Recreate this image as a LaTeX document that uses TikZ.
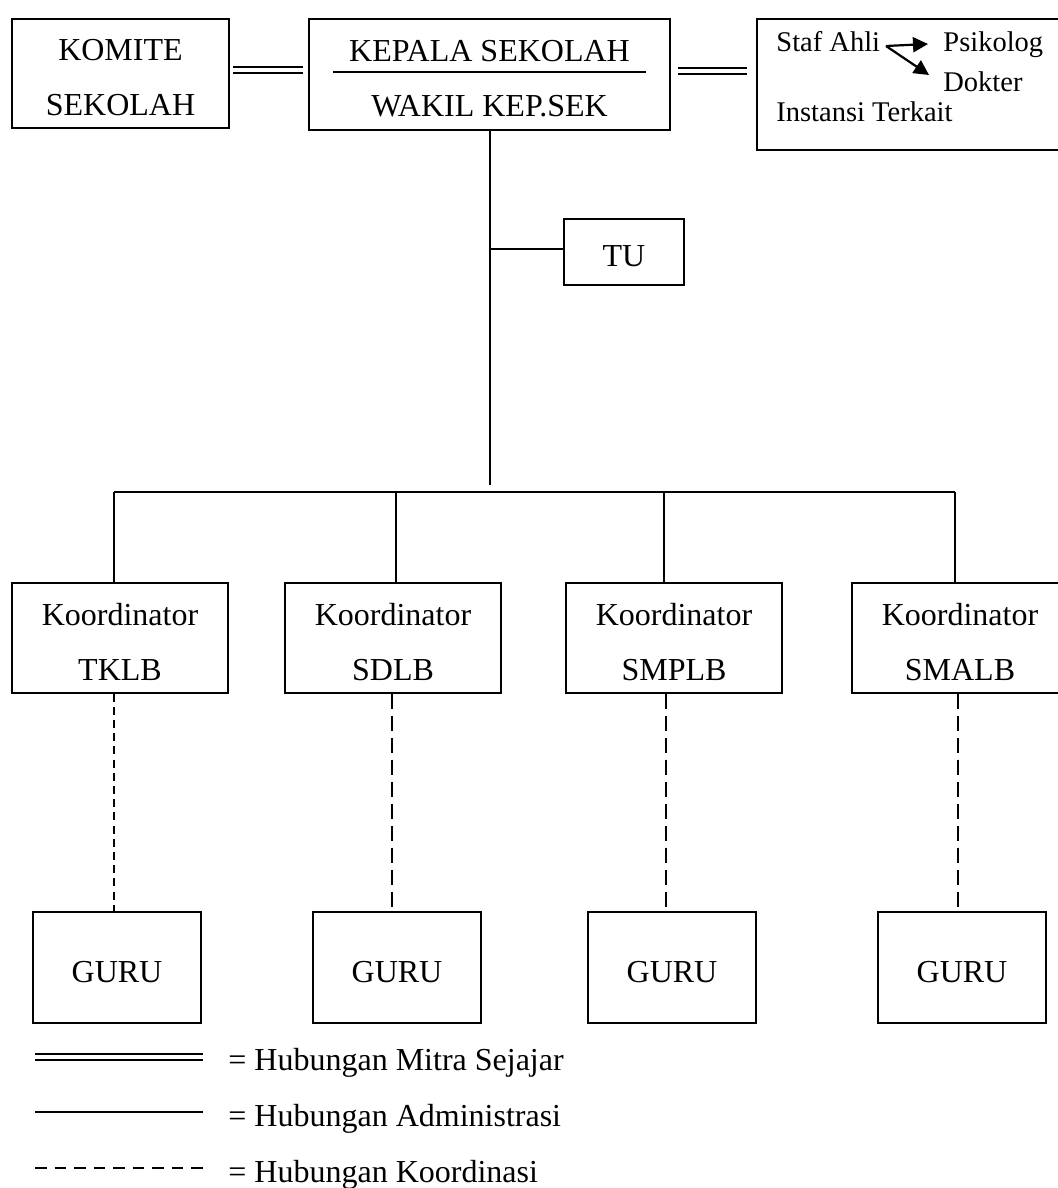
\documentclass[tikz,border=0pt]{standalone}
\usepackage{fontspec}
\setmainfont{Liberation Serif}
\usetikzlibrary{arrows.meta,calc}
\begin{document}
\begin{tikzpicture}[x=0.5pt,y=-0.5pt,
  box/.style={draw,line width=1pt,inner sep=0pt,align=center,anchor=north west,
    font=\fontsize{16}{27.5}\selectfont,text height=14.8pt,text depth=0pt},
  twoline/.style={text height=42.3pt},
  kbox/.style={box,twoline,minimum width=108pt,minimum height=54.75pt},
  gbox/.style={box,minimum width=84pt,minimum height=55.5pt},
  admin/.style={line width=0.8pt},
  mitra/.style={double,double distance=2pt,line width=1pt},
  koordA/.style={line width=1pt,dash pattern=on 4pt off 2.6pt},
  koordB/.style={line width=1pt,dash pattern=on 7.5pt off 3.5pt},
  koordL/.style={line width=1pt,dash pattern=on 5.75pt off 4pt},
  small/.style={anchor=base west,inner sep=0pt,font=\fontsize{14.25}{17}\selectfont},
  legtext/.style={anchor=base west,inner sep=0pt,font=\fontsize{16}{18}\selectfont},
  arr/.style={line width=1.1pt,-{Triangle[length=7.5pt,width=7.5pt]}}]
\clip (0,0) rectangle (1058,1188);
\fill[white] (0,0) rectangle (1058,1188);

% top row
\node[box,twoline,minimum width=108.5pt,minimum height=54.5pt] (komite) at (11,18) {KOMITE\\SEKOLAH};
\node[box,twoline,minimum width=180.5pt,minimum height=55.5pt] (kepala) at (308,18) {KEPALA SEKOLAH\\WAKIL KEP.SEK};
\draw[line width=1pt] ($(kepala.center)+(-156.5,-2.5)$) -- ($(kepala.center)+(156.5,-2.5)$);
\node[box,minimum width=160pt,minimum height=65.5pt] (staf) at (756,18) {};

\node[small] (stafahli) at (776,52) {Staf Ahli};
\node[small] (psikolog) at (943,52) {Psikolog};
\node[small] (dokter) at (943,92) {Dokter};
\node[small] (instansi) at (776,122) {Instansi Terkait};
\coordinate (av) at (886,46);
\coordinate (at1) at (928,44);
\coordinate (at2) at (929,75);
\draw[arr] (av) -- (at1);
\draw[arr] (av) -- (at2);

% mitra connectors
\coordinate (m1a) at ($(komite.east)+(3,-3)$);
\draw[mitra] (m1a) -- ($(m1a -| kepala.west)+(-5,0)$);
\coordinate (m2a) at ($(kepala.east)+(7,-3.5)$);
\draw[mitra] (m2a) -- ($(m2a -| staf.west)+(-9,0)$);

% trunk and TU
\node[box,minimum width=60pt,minimum height=33pt] (tu) at (563,218) {TU};
\coordinate (trunkend) at (490,485);
\draw[admin] (kepala.south -| trunkend) -- (trunkend);
\draw[admin] ($(tu.west)+(0,-3)$) -- ($(tu.west -| trunkend)+(0,-3)$);

% koordinator boxes
\node[kbox] (k1) at (11,582) {Koordinator\\TKLB};
\node[kbox] (k2) at (284,582) {Koordinator\\SDLB};
\node[kbox] (k3) at (565,582) {Koordinator\\SMPLB};
\node[kbox] (k4) at (851,582) {Koordinator\\SMALB};

% bus
\coordinate (b1) at (114,492);
\coordinate (b2) at (396,492);
\coordinate (b3) at (664,492);
\coordinate (b4) at (955,492);
\draw[admin] (b1) -- (b4);
\draw[admin] (b1) -- (b1 |- k1.north);
\draw[admin] (b2) -- (b2 |- k2.north);
\draw[admin] (b3) -- (b3 |- k3.north);
\draw[admin] (b4) -- (b4 |- k4.north);

% guru boxes
\node[gbox] (g1) at (32,911) {GURU};
\node[gbox] (g2) at (312,911) {GURU};
\node[gbox] (g3) at (587,911) {GURU};
\node[gbox] (g4) at (877,911) {GURU};

\coordinate (d1) at (114,700);
\coordinate (d2) at (392,700);
\coordinate (d3) at (666,700);
\coordinate (d4) at (958,700);
\draw[koordA] (k1.south -| d1) -- (g1.north -| d1);
\draw[koordB] (k2.south -| d2) -- (g2.north -| d2);
\draw[koordB] (k3.south -| d3) -- (g3.north -| d3);
\draw[koordB] (k4.south -| d4) -- (g4.north -| d4);

% legend
\coordinate (la1) at (35,1057);
\coordinate (lb1) at (203,1057);
\draw[mitra] (la1) -- (lb1);
\node[legtext] (t1) at (228,1070) {= Hubungan Mitra Sejajar};
\coordinate (la2) at (35,1112);
\coordinate (lb2) at (203,1112);
\draw[admin] (la2) -- (lb2);
\node[legtext] (t2) at (228,1126) {= Hubungan Administrasi};
\coordinate (la3) at (35,1168);
\coordinate (lb3) at (203,1168);
\draw[koordL] (la3) -- (lb3);
\node[legtext] (t3) at (228,1182) {= Hubungan Koordinasi};
\end{tikzpicture}
\end{document}
